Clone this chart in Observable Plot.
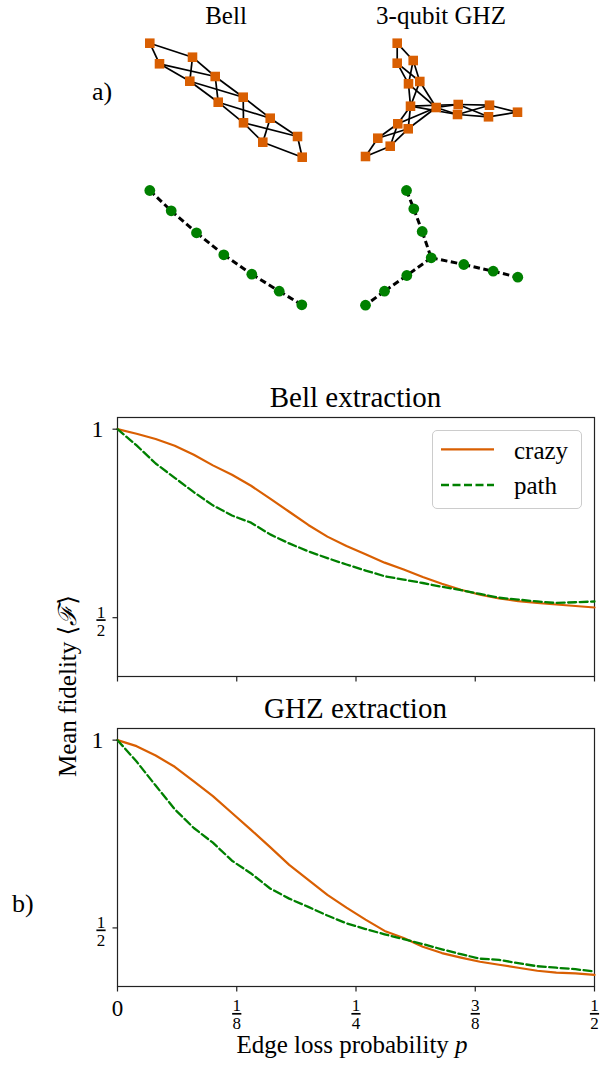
<!DOCTYPE html>
<html>
<head>
<meta charset="utf-8">
<script src="https://cdn.jsdelivr.net/npm/d3@7"></script>
<script src="https://cdn.jsdelivr.net/npm/@observablehq/plot@0.6"></script>
<style>
html, body { margin: 0; padding: 0; background: #fff; }
#root { position: relative; width: 611px; height: 1066px; overflow: hidden; background: #fff;
  font-family: "Liberation Serif", "DejaVu Serif", serif; color: #000; }
.lbl { position: absolute; white-space: nowrap; line-height: 1; }
</style>
</head>
<body>
<div id="root"></div>
<script>
// ---------------- data ----------------
const p = [0, 0.02, 0.04, 0.06, 0.08, 0.10, 0.12, 0.14, 0.16, 0.18, 0.20, 0.22, 0.24,
           0.26, 0.28, 0.30, 0.32, 0.34, 0.36, 0.38, 0.40, 0.42, 0.44, 0.46, 0.48, 0.50];
const bellCrazy = [1.000, 0.988, 0.974, 0.956, 0.932, 0.904, 0.879, 0.850, 0.816, 0.781, 0.746, 0.715, 0.690,
                   0.668, 0.646, 0.628, 0.608, 0.590, 0.574, 0.561, 0.551, 0.544, 0.539, 0.535, 0.531, 0.527];
const bellPath  = [1.000, 0.957, 0.909, 0.871, 0.833, 0.798, 0.771, 0.752, 0.721, 0.697, 0.676, 0.658, 0.641,
                   0.625, 0.610, 0.601, 0.592, 0.582, 0.573, 0.563, 0.553, 0.548, 0.543, 0.539, 0.541, 0.543];
const ghzCrazy  = [1.000, 0.984, 0.959, 0.929, 0.890, 0.851, 0.806, 0.761, 0.715, 0.668, 0.628, 0.588, 0.554,
                   0.522, 0.492, 0.473, 0.450, 0.433, 0.421, 0.410, 0.402, 0.394, 0.386, 0.381, 0.379, 0.375];
const ghzPath   = [1.000, 0.943, 0.879, 0.816, 0.766, 0.727, 0.679, 0.645, 0.605, 0.578, 0.556, 0.533, 0.512,
                   0.497, 0.483, 0.470, 0.457, 0.443, 0.430, 0.418, 0.415, 0.406, 0.398, 0.394, 0.390, 0.384];
const seriesNames = ["crazy", "path"];
const panelTitles = ["Bell extraction", "GHZ extraction"];
const graphTitles = ["Bell", "3-qubit GHZ"];

const xTickValues = [0, 0.125, 0.25, 0.375, 0.5];
const xTickNum = ["0", "1", "1", "3", "1"];
const xTickDen = [null, "8", "4", "8", "2"];
const yTickValues = [1, 0.5];
const yTickNum = ["1", "1"];
const yTickDen = [null, "2"];

// graph layouts (layout units)
const bellCrazyX = [149.3, 159.0, 192.0, 189.3, 214.7, 217.7, 242.7, 243.0, 269.7, 262.3, 297.0, 301.7];
const bellCrazyY = [42.7, 63.3, 56.7, 80.7, 76.0, 101.7, 96.7, 122.3, 117.7, 141.7, 136.0, 156.7];
const bellCrazyLayer = ["L0", "L1", "L1", "L2", "L2", "L3", "L3", "L4", "L4", "L5", "L5", "L6"];
const bellLayerLinks = [["L0","L1"],["L1","L2"],["L2","L3"],["L3","L4"],["L4","L5"],["L5","L6"]];

const ghzCrazyX = [396.7, 396.7, 412.7, 408.0, 419.3, 410.0, 435.7, 457.7, 457.0, 489.0, 488.0, 517.0, 397.3, 407.7, 377.3, 389.7, 365.0];
const ghzCrazyY = [42.7, 62.7, 60.0, 83.3, 81.0, 105.7, 107.0, 104.0, 114.0, 104.7, 116.3, 111.7, 123.3, 128.3, 137.7, 145.7, 156.0];
const ghzCrazyLayer = ["T0","T1","T1","T2","T2","C","C","R1","R1","R2","R2","R3","B1","B1","B2","B2","B3"];
const ghzLayerLinks = [["T0","T1"],["T1","T2"],["T2","C"],["C","R1"],["R1","R2"],["R2","R3"],["C","B1"],["B1","B2"],["B2","B3"]];

const bellPathX = [149.3, 170.7, 196.0, 223.3, 251.3, 278.7, 301.3];
const bellPathY = [190.0, 210.3, 232.3, 254.3, 273.7, 290.7, 304.3];
const bellPathLinks = [[0,1],[1,2],[2,3],[3,4],[4,5],[5,6]];

const ghzPathX = [406.0, 413.3, 421.7, 430.7, 463.3, 492.7, 517.3, 406.3, 384.0, 365.0];
const ghzPathY = [190.0, 208.3, 231.0, 257.3, 264.0, 270.7, 276.7, 275.0, 290.7, 304.7];
const ghzPathLinks = [[0,1],[1,2],[2,3],[3,4],[4,5],[5,6],[3,7],[7,8],[8,9]];

// ---------------- styles ----------------
const ORANGE = "#d95f02";
const GREEN = "#008000";
const FONT = "Liberation Serif, DejaVu Serif, serif";
const AXIS = "#222";

// ---------------- helpers ----------------
const root = document.getElementById("root");
function place(el, top) {
  el.style.position = "absolute";
  el.style.left = "0px";
  el.style.top = top + "px";
  root.appendChild(el);
}
function addLabel(html, {x, baseline, size, anchor = "middle"}) {
  const d = document.createElement("div");
  d.className = "lbl";
  d.style.fontSize = size + "px";
  d.style.left = x + "px";
  d.style.top = (baseline - 0.8375 * size) + "px";
  if (anchor === "middle") d.style.transform = "translateX(-50%)";
  d.innerHTML = html;
  root.appendChild(d);
  return d;
}
function nodesOf(xs, ys, layers) {
  return xs.map((x, i) => ({x, y: ys[i], layer: layers ? layers[i] : null}));
}
function layerEdges(nodes, links) {
  const out = [];
  for (const [a, b] of links) {
    for (const n of nodes.filter(d => d.layer === a))
      for (const m of nodes.filter(d => d.layer === b))
        out.push({x1: n.x, y1: n.y, x2: m.x, y2: m.y});
  }
  return out;
}
function indexEdges(nodes, links) {
  return links.map(([a, b]) => ({x1: nodes[a].x, y1: nodes[a].y, x2: nodes[b].x, y2: nodes[b].y}));
}

// custom symbols for ticks and fraction bars
const tickDown = {draw(ctx) { ctx.moveTo(0, 0); ctx.lineTo(0, 5); }};
const tickLeft = {draw(ctx) { ctx.moveTo(0, 0); ctx.lineTo(-5, 0); }};
const fracBar = {draw(ctx) { ctx.moveTo(-4.6, 0); ctx.lineTo(4.6, 0); }};

// ---------------- a) graph diagrams ----------------
const bellCrazyNodes = nodesOf(bellCrazyX, bellCrazyY, bellCrazyLayer);
const ghzCrazyNodes = nodesOf(ghzCrazyX, ghzCrazyY, ghzCrazyLayer);
const bellPathNodes = nodesOf(bellPathX, bellPathY);
const ghzPathNodes = nodesOf(ghzPathX, ghzPathY);

const crazyEdges = [...layerEdges(bellCrazyNodes, bellLayerLinks), ...layerEdges(ghzCrazyNodes, ghzLayerLinks)];
const pathEdges = [...indexEdges(bellPathNodes, bellPathLinks), ...indexEdges(ghzPathNodes, ghzPathLinks)];

const diagram = Plot.plot({
  width: 611, height: 340, margin: 0,
  x: {domain: [0, 611], range: [0, 611], axis: null},
  y: {domain: [0, 340], range: [0, 340], axis: null},
  marks: [
    Plot.link(crazyEdges, {x1: "x1", y1: "y1", x2: "x2", y2: "y2", stroke: "black", strokeWidth: 1.7}),
    Plot.link(pathEdges, {x1: "x1", y1: "y1", x2: "x2", y2: "y2", stroke: "black", strokeWidth: 3, strokeDasharray: "6.5,3.5"}),
    Plot.dot([...bellCrazyNodes, ...ghzCrazyNodes], {x: "x", y: "y", symbol: "square", r: 5.4, fill: ORANGE, stroke: "none"}),
    Plot.dot([...bellPathNodes, ...ghzPathNodes], {x: "x", y: "y", r: 5.4, fill: GREEN, stroke: "none"})
  ]
});
place(diagram, 0);

// ---------------- b) line panels ----------------
const xTicks = xTickValues.map((v, i) => ({v, num: xTickNum[i], den: xTickDen[i]}));
const yTicks = yTickValues.map((v, i) => ({v, num: yTickNum[i], den: yTickDen[i]}));
const TXT = {fontFamily: FONT, fill: "black", lineAnchor: "middle"};

function panel(crazy, path, {height, marginTop, marginBottom, xLabels}) {
  const data = p.map((pv, i) => ({p: pv, crazy: crazy[i], path: path[i]}));
  const yWhole = yTicks.filter(d => d.den == null);
  const yFrac = yTicks.filter(d => d.den != null);
  const marks = [
    Plot.frame({stroke: AXIS, strokeWidth: 1.2}),
    Plot.line(data, {x: "p", y: "crazy", stroke: ORANGE, strokeWidth: 2.2}),
    Plot.line(data, {x: "p", y: "path", stroke: GREEN, strokeWidth: 2.3, strokeDasharray: "8,3.5"}),
    Plot.dot(xTicks, {x: "v", frameAnchor: "bottom", symbol: tickDown, r: 3, fill: "none", stroke: AXIS, strokeWidth: 1.2}),
    Plot.dot(yTicks, {y: "v", frameAnchor: "left", symbol: tickLeft, r: 3, fill: "none", stroke: AXIS, strokeWidth: 1.2}),
    Plot.text(yWhole, {...TXT, y: "v", text: "num", frameAnchor: "left", textAnchor: "end", dx: -14, fontSize: 24}),
    Plot.text(yFrac, {...TXT, y: "v", text: "num", frameAnchor: "left", textAnchor: "middle", dx: -16.5, dy: -5.5, fontSize: 17}),
    Plot.dot(yFrac, {y: "v", frameAnchor: "left", dx: -16.5, dy: 2.4, symbol: fracBar, r: 3, fill: "none", stroke: "black", strokeWidth: 1.7}),
    Plot.text(yFrac, {...TXT, y: "v", text: "den", frameAnchor: "left", textAnchor: "middle", dx: -16.5, dy: 12.5, fontSize: 17})
  ];
  if (xLabels) {
    const xWhole = xTicks.filter(d => d.den == null);
    const xFrac = xTicks.filter(d => d.den != null);
    marks.push(
      Plot.text(xWhole, {...TXT, x: "v", text: "num", frameAnchor: "bottom", textAnchor: "middle", dy: 22, fontSize: 23}),
      Plot.text(xFrac, {...TXT, x: "v", text: "num", frameAnchor: "bottom", textAnchor: "middle", dy: 19.5, fontSize: 17}),
      Plot.dot(xFrac, {x: "v", frameAnchor: "bottom", dy: 27.3, symbol: fracBar, r: 3, fill: "none", stroke: "black", strokeWidth: 1.7}),
      Plot.text(xFrac, {...TXT, x: "v", text: "den", frameAnchor: "bottom", textAnchor: "middle", dy: 37, fontSize: 17})
    );
  }
  return Plot.plot({
    width: 611, height,
    marginLeft: 117, marginRight: 17, marginTop, marginBottom,
    x: {domain: [0, 0.5], axis: null},
    y: {domain: [0.344, 1.031], axis: null},
    style: {background: "white"},
    marks
  });
}

const panel1 = panel(bellCrazy, bellPath, {height: 310, marginTop: 37, marginBottom: 14, xLabels: false});
place(panel1, 380);
const panel2 = panel(ghzCrazy, ghzPath, {height: 376, marginTop: 38, marginBottom: 80, xLabels: true});
place(panel2, 690);

// ---------------- text ----------------
addLabel(graphTitles[0], {x: 226, baseline: 24, size: 25});
addLabel(graphTitles[1], {x: 441, baseline: 24, size: 25});
addLabel("a)", {x: 92, baseline: 101, size: 26, anchor: "start"});
addLabel("b)", {x: 12, baseline: 913, size: 26, anchor: "start"});
addLabel(panelTitles[0], {x: 355.5, baseline: 407, size: 29});
addLabel(panelTitles[1], {x: 355.5, baseline: 718, size: 29});
addLabel("Edge loss probability <i>p</i>", {x: 352, baseline: 1053, size: 25});

const yl = document.createElement("div");
yl.className = "lbl";
yl.style.fontSize = "25px";
yl.style.left = "67px";
yl.style.top = "686px";
yl.style.transform = "translate(-50%, -50%) rotate(-90deg)";
yl.innerHTML = "Mean fidelity ⟨<i>ℱ</i>⟩";
root.appendChild(yl);

// legend
const leg = document.createElement("div");
leg.style.cssText = "position:absolute;left:432px;top:430px;width:148px;height:77px;border:1px solid #cccccc;border-radius:5px;background:rgba(255,255,255,0.8);";
root.appendChild(leg);
const ns = "http://www.w3.org/2000/svg";
const sw = document.createElementNS(ns, "svg");
sw.setAttribute("width", "611"); sw.setAttribute("height", "1066");
sw.style.cssText = "position:absolute;left:0;top:0;pointer-events:none;";
const swatchStyles = [{stroke: ORANGE, dash: null, y: 449.3}, {stroke: GREEN, dash: "8,3.5", y: 485}];
swatchStyles.forEach(s => {
  const l = document.createElementNS(ns, "line");
  l.setAttribute("x1", 441); l.setAttribute("x2", 494);
  l.setAttribute("y1", s.y); l.setAttribute("y2", s.y);
  l.setAttribute("stroke", s.stroke); l.setAttribute("stroke-width", 2.3);
  if (s.dash) l.setAttribute("stroke-dasharray", s.dash);
  sw.appendChild(l);
});
root.appendChild(sw);
addLabel(seriesNames[0], {x: 514, baseline: 459, size: 25, anchor: "start"});
addLabel(seriesNames[1], {x: 514, baseline: 494, size: 25, anchor: "start"});
</script>
</body>
</html>
